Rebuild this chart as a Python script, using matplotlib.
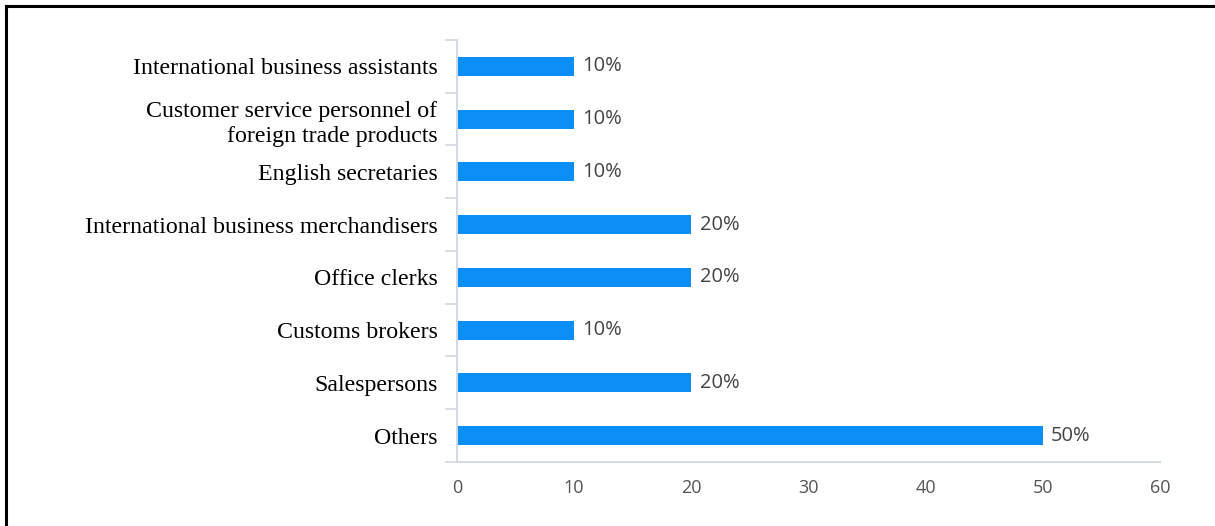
import matplotlib.pyplot as plt
from matplotlib.lines import Line2D

categories = [
    "International business assistants",
    "Customer service personnel of\nforeign trade products",
    "English secretaries",
    "International business merchandisers",
    "Office clerks",
    "Customs brokers",
    "Salespersons",
    "Others",
]
values = [10, 10, 10, 20, 20, 10, 20, 50]
x_ticks = [0, 10, 20, 30, 40, 50, 60]

bar_color = "#0b8ef5"
axis_color = "#d3d9e3"
text_grey = "#555555"
num_font = "Open Sans"

fig = plt.figure(figsize=(12.15, 5.26), dpi=100)
ax = fig.add_axes([0.3761, 0.1217, 0.9547 - 0.3761, 0.924 - 0.1217])

n = len(categories)
ypos = list(range(n - 1, -1, -1))
ax.barh(ypos, values, height=0.36, color=bar_color)

for y, v in zip(ypos, values):
    ax.text(v + 0.72, y, f"{v}%", va="center", ha="left",
            fontsize=14.5, color="#444444", family=num_font)

ax.set_xlim(0, 60)
ax.set_ylim(-0.5, n - 0.5)
ax.set_xticks(x_ticks)
ax.set_xticklabels([str(t) for t in x_ticks], fontsize=13, color=text_grey,
                   family=num_font)
ax.tick_params(axis="x", length=0, pad=12)

# category labels sit beside each bar; ticks mark band boundaries
ax.set_yticks(ypos)
ax.set_yticklabels(categories, fontsize=17.2, family="Liberation Serif",
                   color="black", linespacing=1.25)
ax.tick_params(axis="y", length=0, pad=14)
for b in range(n + 1):
    ax.add_line(Line2D([-0.9, 0], [b - 0.5, b - 0.5], color=axis_color,
                       lw=1.2, clip_on=False))

for s in ("top", "right"):
    ax.spines[s].set_visible(False)
for s in ("left", "bottom"):
    ax.spines[s].set_color(axis_color)
    ax.spines[s].set_linewidth(1.4)

# outer frame
fig.add_artist(Line2D([6 / 1215, 6 / 1215], [0, 1 - 6 / 526],
                      transform=fig.transFigure, color="black", lw=2.2))
fig.add_artist(Line2D([6 / 1215, 1], [1 - 6 / 526, 1 - 6 / 526],
                      transform=fig.transFigure, color="black", lw=2.2))

fig.savefig("out.png", dpi=100)
